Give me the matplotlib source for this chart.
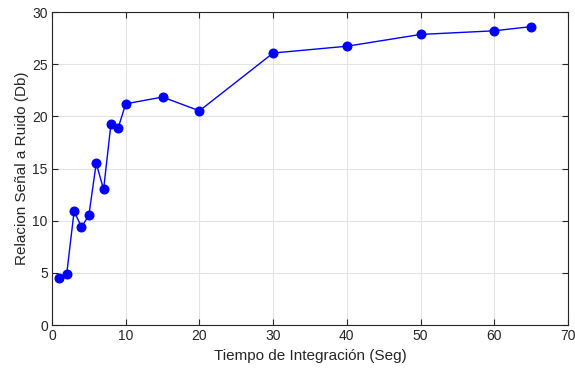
import matplotlib
matplotlib.use("Agg")
import matplotlib.pyplot as plt

# Datos
tiempo = [1, 2, 3, 4, 5, 6, 7, 8, 9, 10, 15, 20, 30, 40, 50, 60, 65]
snr = [4.55, 4.9, 10.9, 9.4, 10.5, 15.5, 13.0, 19.25, 18.93, 21.2,
       21.85, 20.53, 26.07, 26.72, 27.85, 28.2, 28.6]
xticks = [0, 10, 20, 30, 40, 50, 60, 70]
yticks = [0, 5, 10, 15, 20, 25, 30]

plt.rcParams['font.family'] = ['Liberation Sans', 'DejaVu Sans']

fig = plt.figure(figsize=(5.75, 3.72), dpi=100)
ax = fig.add_axes([0.0904, 0.1263, 0.8974, 0.8414])

ax.plot(tiempo, snr, color='#0000ff', linewidth=1.0, marker='o',
        markersize=6.2, markerfacecolor='#0000ff', markeredgecolor='#0000ff')

ax.set_xlim(0, 70)
ax.set_ylim(0, 30)
ax.set_xticks(xticks)
ax.set_yticks(yticks)
ax.grid(True, color='#e3e3e3', linewidth=0.8)
ax.set_axisbelow(True)

ax.tick_params(direction='in', top=True, right=True, length=4, width=0.8,
               labelsize=10, colors='#262626', pad=3)
for s in ax.spines.values():
    s.set_color('#262626')
    s.set_linewidth(0.8)

ax.set_xlabel("Tiempo de Integración (Seg)", fontsize=11, color='#262626', labelpad=4)
ax.set_ylabel("Relacion Señal a Ruido (Db)", fontsize=11, color='#262626', labelpad=2)

fig.savefig("out.png", dpi=100)
